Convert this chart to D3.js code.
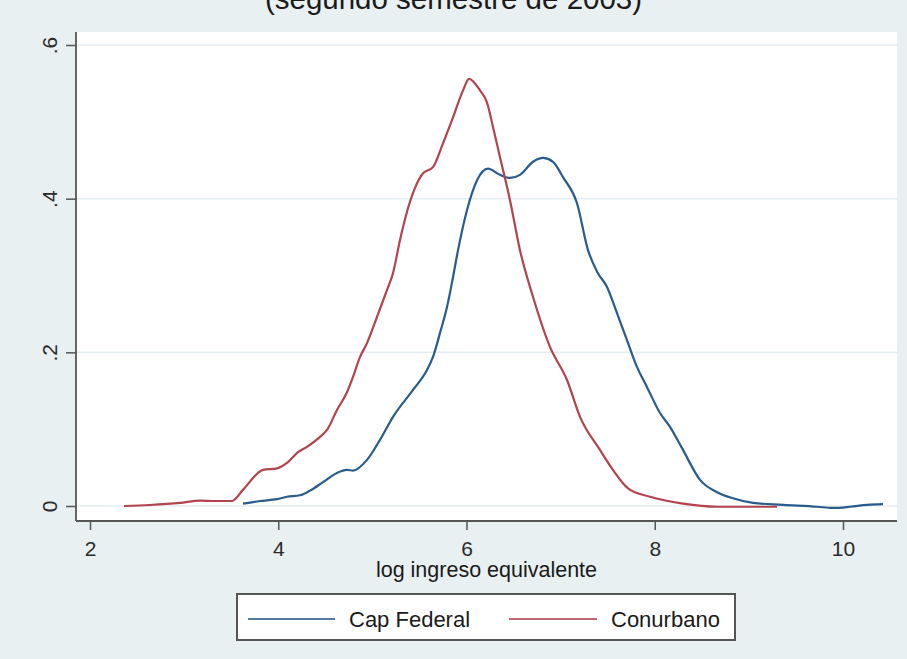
<!DOCTYPE html>
<html>
<head>
<meta charset="utf-8">
<script src="https://cdn.jsdelivr.net/npm/d3@7/dist/d3.min.js"></script>
<style>
  html, body { margin: 0; padding: 0; background: #e9f0f2; }
  svg { display: block; font-family: "Liberation Sans", Arial, sans-serif; }
</style>
</head>
<body>
<svg id="chart" width="907" height="659"></svg>
<script>
// Kernel density of log equivalent income, second half of 2003
const capFederalX = [3.625, 3.806, 3.987, 4.093, 4.231, 4.337, 4.475, 4.624, 4.730, 4.794, 4.943, 5.081, 5.219, 5.432, 5.580, 5.644, 5.718, 5.793, 5.857, 5.910, 6.005, 6.112, 6.228, 6.356, 6.462, 6.568, 6.707, 6.813, 6.919, 7.025, 7.174, 7.291, 7.387, 7.493, 7.599, 7.705, 7.811, 7.917, 8.056, 8.162, 8.300, 8.481, 8.661, 8.831, 9.044, 9.363, 9.724, 9.894, 10.074, 10.255, 10.425];
const capFederalY = [0.003, 0.0065, 0.009, 0.012, 0.014, 0.020, 0.031, 0.043, 0.047, 0.046, 0.060, 0.086, 0.116, 0.151, 0.177, 0.194, 0.225, 0.259, 0.298, 0.333, 0.385, 0.424, 0.439, 0.431, 0.427, 0.431, 0.448, 0.453, 0.448, 0.428, 0.394, 0.333, 0.305, 0.285, 0.251, 0.216, 0.181, 0.155, 0.121, 0.103, 0.073, 0.034, 0.018, 0.010, 0.004, 0.0015, -0.001, -0.0025, -0.001, 0.0015, 0.0025];

const conurbanoX = [2.361, 2.637, 2.956, 3.169, 3.328, 3.509, 3.625, 3.838, 3.987, 4.093, 4.210, 4.305, 4.444, 4.518, 4.624, 4.730, 4.794, 4.869, 4.943, 5.049, 5.155, 5.219, 5.293, 5.368, 5.453, 5.538, 5.644, 5.750, 5.857, 5.963, 6.027, 6.143, 6.218, 6.282, 6.356, 6.462, 6.568, 6.707, 6.887, 7.068, 7.206, 7.418, 7.556, 7.716, 7.950, 8.300, 8.661, 9.299];
const conurbanoY = [0.000, 0.0013, 0.004, 0.007, 0.0065, 0.0065, 0.021, 0.047, 0.049, 0.056, 0.070, 0.077, 0.090, 0.099, 0.125, 0.148, 0.168, 0.194, 0.212, 0.246, 0.281, 0.303, 0.346, 0.383, 0.414, 0.433, 0.441, 0.472, 0.506, 0.541, 0.556, 0.541, 0.525, 0.493, 0.454, 0.398, 0.333, 0.272, 0.207, 0.164, 0.116, 0.073, 0.047, 0.023, 0.012, 0.003, -0.001, -0.001];

const xTicks = [2, 4, 6, 8, 10];
const yTicks = [0, 0.2, 0.4, 0.6];
const yTickLabels = ["0", ".2", ".4", ".6"];
const seriesNames = ["Cap Federal", "Conurbano"];
const seriesColors = ["#285c8d", "#b3434d"];

const titleText = "(segundo semestre de 2003)";
const xTitle = "log ingreso equivalente";

const svg = d3.select("#chart");
const W = 907, H = 659;

// Plot region bounds
const plot = { left: 76, right: 897, top: 32, bottom: 521 };

const x = d3.scaleLinear().domain([2, 10]).range([90, 843]);
const y = d3.scaleLinear().domain([0, 0.6]).range([506, 45]);

svg.append("rect").attr("width", W).attr("height", H).attr("fill", "#e9f0f2");

// Title (partly outside the top edge)
svg.append("text")
  .attr("x", W / 2).attr("y", 9)
  .attr("text-anchor", "middle")
  .attr("font-size", 29.5)
  .attr("fill", "#1a1a1a")
  .text(titleText);

// Plot region
svg.append("rect")
  .attr("x", plot.left).attr("y", plot.top)
  .attr("width", plot.right - plot.left).attr("height", plot.bottom - plot.top)
  .attr("fill", "#ffffff");

// Horizontal grid lines
svg.append("g").selectAll("line").data(yTicks).join("line")
  .attr("x1", plot.left).attr("x2", plot.right)
  .attr("y1", d => y(d)).attr("y2", d => y(d))
  .attr("stroke", "#e4edf0").attr("stroke-width", 1.5);

// Density curves
const series = [
  { name: seriesNames[0], xs: capFederalX, ys: capFederalY, color: seriesColors[0] },
  { name: seriesNames[1], xs: conurbanoX, ys: conurbanoY, color: seriesColors[1] }
];
const line = d3.line().x(d => x(d[0])).y(d => y(d[1])).curve(d3.curveMonotoneX);
svg.append("g").selectAll("path").data(series).join("path")
  .attr("d", s => line(d3.zip(s.xs, s.ys)))
  .attr("fill", "none")
  .attr("stroke", s => s.color)
  .attr("stroke-width", 2.2)
  .attr("stroke-linejoin", "round");

// Y axis
const yAxis = d3.axisLeft(y).tickValues(yTicks)
  .tickFormat((d, i) => yTickLabels[i]).tickSize(10).tickPadding(0);
const gy = svg.append("g").attr("transform", `translate(${plot.left},0)`).call(yAxis);
gy.select(".domain").remove();
gy.selectAll(".tick line").attr("stroke", "#555").attr("stroke-width", 1.5);
gy.selectAll(".tick text")
  .attr("x", null).attr("dy", null)
  .attr("transform", "translate(-19,0) rotate(-90)")
  .attr("text-anchor", "middle")
  .attr("font-size", 21)
  .attr("fill", "#2a2a2a");
svg.append("line")
  .attr("x1", plot.left).attr("x2", plot.left)
  .attr("y1", plot.top).attr("y2", plot.bottom)
  .attr("stroke", "#555").attr("stroke-width", 1.8);

// X axis
const xAxis = d3.axisBottom(x).tickValues(xTicks).tickSize(9).tickFormat(d3.format("d"));
const gx = svg.append("g").attr("transform", `translate(0,${plot.bottom})`).call(xAxis);
gx.select(".domain").remove();
gx.selectAll(".tick line").attr("stroke", "#555").attr("stroke-width", 1.5);
gx.selectAll(".tick text")
  .attr("y", 35).attr("dy", null)
  .attr("font-size", 21)
  .attr("fill", "#2a2a2a");
svg.append("line")
  .attr("x1", plot.left).attr("x2", plot.right)
  .attr("y1", plot.bottom).attr("y2", plot.bottom)
  .attr("stroke", "#555").attr("stroke-width", 1.8);

// X axis title
svg.append("text")
  .attr("x", (plot.left + plot.right) / 2).attr("y", 577)
  .attr("text-anchor", "middle")
  .attr("font-size", 21.5)
  .attr("fill", "#1a1a1a")
  .text(xTitle);

// Legend
const legend = svg.append("g");
legend.append("rect")
  .attr("x", 237).attr("y", 594).attr("width", 498).attr("height", 46)
  .attr("fill", "#ffffff").attr("stroke", "#555").attr("stroke-width", 2);
const legendItems = [
  { x0: 248, x1: 335, tx: 349 },
  { x0: 509, x1: 597, tx: 611 }
];
legend.selectAll("line.key").data(series).join("line")
  .attr("class", "key")
  .attr("x1", (s, i) => legendItems[i].x0).attr("x2", (s, i) => legendItems[i].x1)
  .attr("y1", 619).attr("y2", 619)
  .attr("stroke", s => s.color).attr("stroke-width", 2).attr("opacity", 0.8);
legend.selectAll("text").data(series).join("text")
  .attr("x", (s, i) => legendItems[i].tx).attr("y", 627)
  .attr("font-size", 22)
  .attr("fill", "#1a1a1a")
  .text(s => s.name);
</script>
</body>
</html>
